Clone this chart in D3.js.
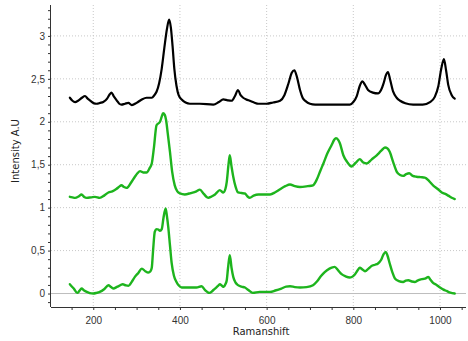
<!DOCTYPE html>
<meta charset="utf-8">
<style>
  body { margin: 0; background: #fff; }
  svg { display: block; font-family: "DejaVu Sans", Verdana, sans-serif; }
  .grid line { stroke: #c8c8c8; stroke-dasharray: 1,2; }
  .tick text { fill: #333; font-size: 10px; }
  .spec { fill: none; stroke-linejoin: round; stroke-linecap: round; }
</style>
<svg width="468" height="341"></svg>
<script src="https://cdn.jsdelivr.net/npm/d3@7/dist/d3.min.js"></script>
<script>

// spectra: [Ramanshift, intensity]
var topSpectrum = [
  [146,2.28],[152,2.245],[158,2.23],[165,2.245],[174,2.28],[181,2.30],[187,2.27],[192,2.25],
  [200,2.22],[208,2.21],[216,2.22],[223,2.23],[232,2.27],[238,2.32],[242,2.34],[247,2.30],
  [254,2.25],[260,2.21],[265,2.20],[273,2.21],[281,2.22],[289,2.195],[300,2.22],[312,2.26],
  [323,2.28],[335,2.28],[341,2.31],[346,2.35],[352,2.45],[358,2.62],[364,2.86],[370,3.08],
  [375,3.19],[379,3.10],[383,2.88],[387,2.62],[392,2.42],[397,2.31],[404,2.26],[413,2.225],
  [423,2.21],[446,2.21],[477,2.20],[490,2.23],[500,2.26],[510,2.25],[519,2.245],[527,2.30],
  [534,2.37],[540,2.31],[546,2.28],[553,2.26],[561,2.245],[571,2.225],[581,2.21],[600,2.21],
  [615,2.225],[631,2.245],[641,2.31],[650,2.44],[658,2.57],[664,2.60],[670,2.52],[677,2.37],
  [683,2.28],[690,2.24],[700,2.21],[712,2.20],[769,2.20],[792,2.20],[800,2.23],[808,2.30],
  [815,2.42],[821,2.47],[827,2.43],[834,2.37],[845,2.34],[857,2.33],[864,2.37],[870,2.45],
  [875,2.54],[880,2.58],[885,2.49],[892,2.35],[900,2.28],[908,2.245],[920,2.215],[938,2.20],
  [960,2.20],[977,2.23],[988,2.29],[996,2.41],[1003,2.62],[1009,2.73],[1014,2.60],[1019,2.43],
  [1027,2.31],[1034,2.27]
];

var midSpectrum = [
  [146,1.126],[152,1.12],[158,1.114],[166,1.13],[173,1.154],[179,1.125],[185,1.114],[195,1.12],
  [204,1.126],[215,1.114],[225,1.14],[235,1.177],[244,1.19],[254,1.22],[260,1.245],[265,1.26],
  [271,1.24],[277,1.23],[287,1.29],[296,1.36],[302,1.40],[308,1.425],[315,1.41],[323,1.41],
  [330,1.46],[335,1.515],[340,1.70],[346,1.96],[354,2.00],[358,2.06],[361,2.10],[365,2.08],
  [368,2.02],[372,1.86],[377,1.65],[382,1.42],[388,1.26],[394,1.19],[400,1.165],[411,1.154],
  [425,1.17],[438,1.19],[446,1.21],[455,1.16],[465,1.114],[473,1.13],[481,1.154],[492,1.204],
  [500,1.177],[505,1.22],[508,1.30],[512,1.50],[515,1.61],[519,1.48],[523,1.36],[528,1.25],
  [534,1.177],[542,1.17],[550,1.165],[556,1.13],[561,1.114],[570,1.14],[581,1.154],[608,1.154],
  [620,1.18],[631,1.215],[643,1.25],[654,1.27],[665,1.25],[677,1.24],[695,1.25],[707,1.26],
  [716,1.33],[724,1.43],[731,1.515],[740,1.63],[750,1.73],[756,1.79],[760,1.81],[765,1.79],
  [769,1.75],[777,1.61],[786,1.53],[796,1.48],[805,1.52],[815,1.565],[822,1.53],[831,1.515],
  [842,1.56],[854,1.61],[864,1.66],[873,1.70],[879,1.69],[884,1.65],[892,1.53],[900,1.42],
  [908,1.38],[915,1.37],[922,1.39],[929,1.40],[937,1.37],[946,1.36],[955,1.355],[965,1.35],
  [975,1.31],[984,1.26],[994,1.22],[1004,1.177],[1012,1.16],[1019,1.14],[1027,1.115],[1034,1.10]
];

var lowSpectrum = [
  [146,0.108],[150,0.085],[155,0.058],[163,0.007],[168,0.03],[173,0.058],[179,0.035],[185,0.019],
  [192,0.005],[200,0.0],[208,0.008],[215,0.019],[225,0.05],[235,0.097],[240,0.08],[246,0.058],
  [256,0.08],[268,0.108],[275,0.095],[281,0.089],[288,0.13],[296,0.194],[304,0.24],[312,0.29],
  [320,0.26],[327,0.245],[332,0.26],[335,0.30],[338,0.50],[342,0.72],[346,0.75],[350,0.745],
  [354,0.73],[358,0.75],[362,0.88],[367,0.99],[370,0.90],[373,0.776],[377,0.56],[381,0.35],
  [386,0.21],[392,0.135],[398,0.09],[404,0.07],[423,0.07],[438,0.07],[450,0.085],[458,0.04],
  [468,0.007],[475,0.03],[481,0.058],[487,0.085],[492,0.108],[497,0.09],[501,0.077],[505,0.11],
  [508,0.155],[511,0.30],[515,0.446],[519,0.30],[523,0.194],[528,0.13],[534,0.097],[542,0.08],
  [550,0.07],[558,0.04],[568,0.007],[584,0.019],[608,0.019],[620,0.035],[634,0.058],[645,0.08],
  [654,0.085],[665,0.075],[677,0.07],[692,0.075],[707,0.097],[716,0.14],[725,0.2],[734,0.25],
  [745,0.29],[752,0.305],[757,0.31],[765,0.27],[773,0.225],[782,0.2],[792,0.186],[799,0.2],
  [804,0.225],[810,0.27],[815,0.30],[821,0.28],[827,0.26],[835,0.29],[842,0.32],[850,0.335],
  [857,0.35],[864,0.39],[870,0.46],[875,0.485],[879,0.44],[884,0.35],[890,0.25],[896,0.175],
  [905,0.145],[915,0.135],[921,0.15],[927,0.155],[935,0.14],[942,0.135],[948,0.15],[954,0.163],
  [962,0.17],[968,0.18],[973,0.194],[978,0.16],[984,0.124],[992,0.1],[1000,0.07],[1008,0.045],
  [1015,0.03],[1024,0.01],[1034,0.0]
];

var xTicks = [200, 400, 600, 800, 1000];
var yTicks = [0, 0.5, 1, 1.5, 2, 2.5, 3];

var svg = d3.select("svg");
var mLeft = 51, mRight = 466, mTop = 5, mBottom = 307;

var x = d3.scaleLinear().domain([102.5, 1060]).range([mLeft, mRight]);
var y = d3.scaleLinear().domain([-0.157, 3.36]).range([mBottom, mTop]);

var fmt = function(d) { return String(d).replace(".", ","); };

// dotted grid
var grid = svg.append("g").attr("class", "grid");
grid.selectAll(".v").data(xTicks).enter().append("line")
    .attr("x1", function(d) { return x(d); }).attr("x2", function(d) { return x(d); })
    .attr("y1", mTop).attr("y2", mBottom);
grid.selectAll(".h").data(yTicks.filter(function(d) { return d != 0; })).enter().append("line")
    .attr("y1", function(d) { return y(d); }).attr("y2", function(d) { return y(d); })
    .attr("x1", mLeft).attr("x2", mRight);

// zero line is solid
svg.append("line")
    .attr("x1", mLeft).attr("x2", mRight)
    .attr("y1", y(0)).attr("y2", y(0))
    .attr("stroke", "#bdbdbd");

// axes
var xAxis = svg.append("g").attr("transform", "translate(0," + mBottom + ")")
    .call(d3.axisBottom(x).tickValues(d3.range(150, 1060, 50)).tickSize(3).tickFormat(function(d) {
      return xTicks.indexOf(d) >= 0 ? d : "";
    }));
xAxis.select(".domain").attr("stroke", "#333").attr("d", "M" + mLeft + ",0.5H" + mRight);
xAxis.selectAll(".tick line").attr("stroke", "#333");
xAxis.selectAll(".tick text").attr("dy", "1.05em");

var yTickVals = d3.range(-1, 34).map(function(i) { return i / 10; });
var yAxis = svg.append("g").attr("transform", "translate(" + mLeft + ",0)")
    .call(d3.axisLeft(y).tickValues(yTickVals)
      .tickSize(3).tickFormat(function(d) {
        return yTicks.indexOf(d) >= 0 ? fmt(d) : "";
      }));
yAxis.select(".domain").attr("stroke", "#333").attr("d", "M-0.5," + mTop + "V" + mBottom);
yAxis.selectAll(".tick line").attr("stroke", "#333");
yAxis.selectAll(".tick text").attr("x", -6);

// spectra
var line = d3.line()
    .curve(d3.curveMonotoneX)
    .x(function(d) { return x(d[0]); })
    .y(function(d) { return y(d[1]); });

svg.append("path").datum(lowSpectrum).attr("class", "spec")
    .attr("stroke", "#1db41d").attr("stroke-width", 2.4).attr("d", line);
svg.append("path").datum(midSpectrum).attr("class", "spec")
    .attr("stroke", "#1db41d").attr("stroke-width", 2.4).attr("d", line);
svg.append("path").datum(topSpectrum).attr("class", "spec")
    .attr("stroke", "#000").attr("stroke-width", 2.2).attr("d", line);

// labels
svg.append("text")
    .attr("x", 261).attr("y", 335)
    .attr("text-anchor", "middle").attr("font-size", 10).attr("fill", "#222")
    .text("Ramanshift");

svg.append("text")
    .attr("transform", "translate(19,151) rotate(-90)")
    .attr("text-anchor", "middle").attr("font-size", 10).attr("fill", "#222")
    .text("Intensity A.U");

</script>
